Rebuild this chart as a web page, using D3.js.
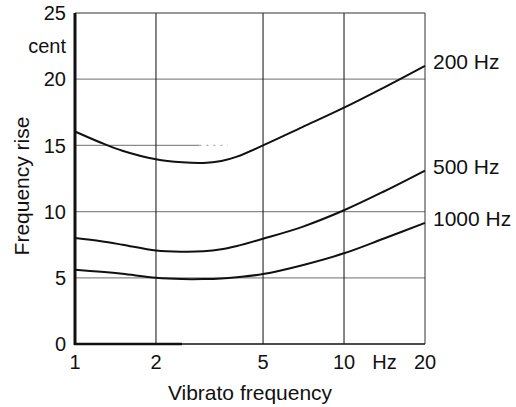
<!DOCTYPE html>
<html>
<head>
<meta charset="utf-8">
<script src="https://cdn.jsdelivr.net/npm/d3@7/dist/d3.min.js"></script>
<style>
  html, body { margin: 0; padding: 0; background: #fff; }
  svg { display: block; }
  text { font-family: "Liberation Sans", Arial, Helvetica, sans-serif; fill: #111; }
</style>
</head>
<body>
<svg id="chart" width="516" height="407"></svg>
<script>
// ---- data ----
const vibratoFreq = [1, 1.25, 1.5, 2, 2.5, 3, 3.5, 4, 5, 7, 10, 14, 20];
const rise200  = [16.05, 15.2, 14.6, 13.95, 13.72, 13.67, 13.82, 14.15, 15.0, 16.38, 17.85, 19.35, 21.0];
const rise500  = [8.0, 7.76, 7.5, 7.06, 6.97, 7.0, 7.15, 7.4, 7.95, 8.85, 10.1, 11.5, 13.1];
const rise1000 = [5.6, 5.45, 5.3, 5.0, 4.9, 4.9, 4.95, 5.05, 5.28, 5.95, 6.85, 7.95, 9.15];
const seriesNames = ["200 Hz", "500 Hz", "1000 Hz"];
const xTicks = [1, 2, 5, 10, 20];
const yTicks = [0, 5, 10, 15, 20, 25];
const xUnit = "Hz";
const yUnit = "cent";
const xTitle = "Vibrato frequency";
const yTitle = "Frequency rise";

const series = [rise200, rise500, rise1000].map((vals, i) => ({
  name: seriesNames[i],
  points: vibratoFreq.map((f, j) => ({ x: f, y: vals[j] }))
}));

// ---- layout ----
const svg = d3.select("#chart");
const pL = 75, pR = 425, pT = 13, pB = 344;
const x = d3.scaleLog().domain([1, 20]).range([pL, pR]);
const y = d3.scaleLinear().domain([0, 25]).range([pB, pT]);

// horizontal grid (gray)
svg.append("g").selectAll("line")
  .data(yTicks.filter(v => v > 0 && v < 25 && v !== 15))
  .join("line")
  .attr("x1", pL).attr("x2", pR)
  .attr("y1", d => y(d)).attr("y2", d => y(d))
  .attr("stroke", "#8a8a8a").attr("stroke-width", 1.2);
// partial 15 line (as in the reference)
svg.append("line")
  .attr("x1", pL).attr("x2", x(2.9))
  .attr("y1", y(15)).attr("y2", y(15))
  .attr("stroke", "#8a8a8a").attr("stroke-width", 1.2);
svg.append("line")
  .attr("x1", x(2.9)).attr("x2", x(3.7))
  .attr("y1", y(15)).attr("y2", y(15))
  .attr("stroke", "#aaa").attr("stroke-width", 1.2)
  .attr("stroke-dasharray", "2,5");

// vertical grid (black)
svg.append("g").selectAll("line")
  .data(xTicks.filter(v => v > 1 && v < 20))
  .join("line")
  .attr("x1", d => x(d)).attr("x2", d => x(d))
  .attr("y1", pT).attr("y2", pB)
  .attr("stroke", "#222").attr("stroke-width", 1.1);

// frame
svg.append("line").attr("x1", pL).attr("x2", pR).attr("y1", pT).attr("y2", pT)
  .attr("stroke", "#333").attr("stroke-width", 1);
svg.append("line").attr("x1", pR).attr("x2", pR).attr("y1", pT).attr("y2", pB)
  .attr("stroke", "#333").attr("stroke-width", 1);
svg.append("line").attr("x1", pL).attr("x2", pR).attr("y1", pB).attr("y2", pB)
  .attr("stroke", "#111").attr("stroke-width", 1.6);
svg.append("line").attr("x1", pL - 1).attr("x2", x(2.5)).attr("y1", pB).attr("y2", pB)
  .attr("stroke", "#111").attr("stroke-width", 2.6);
svg.append("line").attr("x1", pL).attr("x2", pL).attr("y1", pT).attr("y2", pB + 1)
  .attr("stroke", "#111").attr("stroke-width", 3);

// curves
const line = d3.line()
  .x(d => x(d.x)).y(d => y(d.y))
  .curve(d3.curveCatmullRom.alpha(0.5));
svg.append("g").selectAll("path")
  .data(series)
  .join("path")
  .attr("d", d => line(d.points))
  .attr("fill", "none")
  .attr("stroke", "#111")
  .attr("stroke-width", 2);

// series labels
svg.append("g").selectAll("text")
  .data(series)
  .join("text")
  .attr("x", pR + 8)
  .attr("y", d => y(d.points[d.points.length - 1].y) + 3)
  .attr("font-size", 21)
  .text(d => d.name);

// y tick labels
svg.append("g").selectAll("text")
  .data(yTicks)
  .join("text")
  .attr("x", pL - 9)
  .attr("y", d => y(d))
  .attr("dy", "0.36em")
  .attr("text-anchor", "end")
  .attr("font-size", 20)
  .text(d => d);
svg.append("text")
  .attr("x", pL - 9).attr("y", y(22.5)).attr("dy", "0.36em")
  .attr("text-anchor", "end").attr("font-size", 20)
  .text(yUnit);

// x tick labels
svg.append("g").selectAll("text")
  .data(xTicks)
  .join("text")
  .attr("x", d => x(d))
  .attr("y", 369)
  .attr("text-anchor", "middle")
  .attr("font-size", 20)
  .text(d => d);
svg.append("text")
  .attr("x", x(Math.sqrt(200))).attr("y", 369)
  .attr("text-anchor", "middle").attr("font-size", 20)
  .text(xUnit);

// axis titles
svg.append("text")
  .attr("x", (pL + pR) / 2).attr("y", 400)
  .attr("text-anchor", "middle").attr("font-size", 21)
  .text(xTitle);
svg.append("text")
  .attr("transform", "translate(29,186) rotate(-90)")
  .attr("text-anchor", "middle").attr("font-size", 21)
  .text(yTitle);
</script>
</body>
</html>
